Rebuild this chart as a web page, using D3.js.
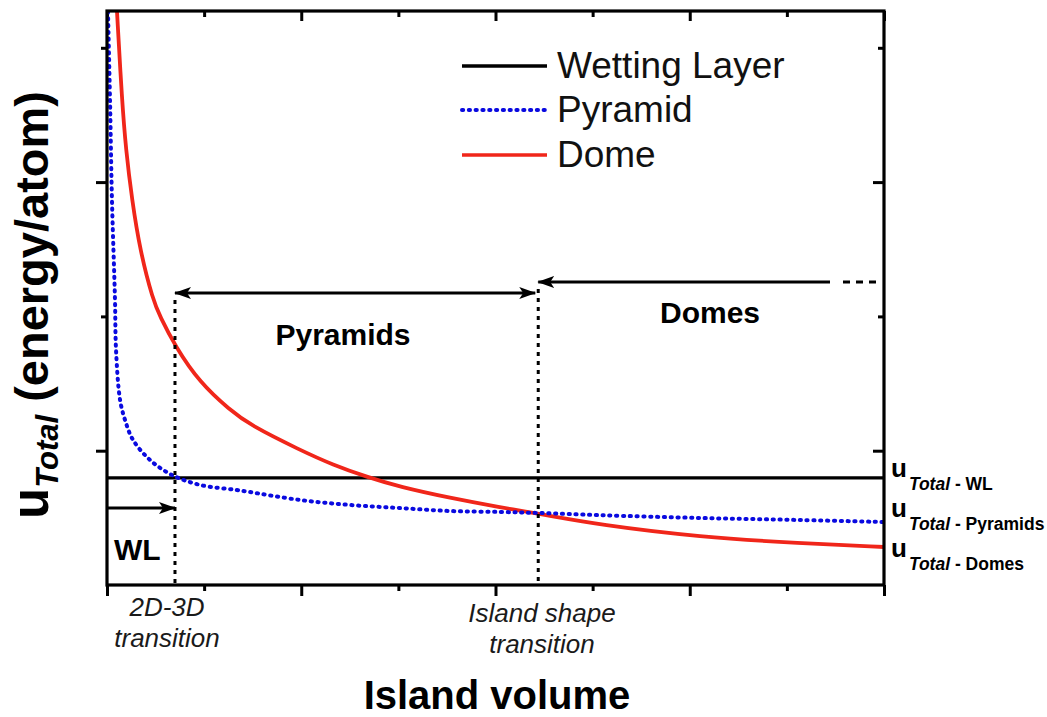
<!DOCTYPE html>
<html>
<head>
<meta charset="utf-8">
<script src="https://cdn.jsdelivr.net/npm/d3@7"></script>
<style>
  html, body { margin: 0; padding: 0; background: #fff; }
  svg { display: block; font-family: "Liberation Sans", Arial, Helvetica, sans-serif; }
</style>
</head>
<body>
<svg id="chart" width="1047" height="717"></svg>
<script>
// ---------------- data ----------------
// Island volume (arbitrary units, 0..8) and energy per atom (arbitrary units)
const pyramidVolume = [0.010, 0.031, 0.051, 0.082, 0.093, 0.134, 0.185, 0.268, 0.443, 0.669, 0.958, 1.338, 1.472, 1.987, 2.502, 3.017, 3.532, 4.046, 4.458, 5.076, 6.106, 7.135, 8.0];
const pyramidEnergy = [4.27, 3.61, 2.87, 2.13, 1.75, 1.38, 1.23, 1.08, 0.931, 0.819, 0.745, 0.707, 0.692, 0.633, 0.596, 0.573, 0.551, 0.544, 0.536, 0.520, 0.499, 0.484, 0.469];
const domeVolume = [0.103, 0.154, 0.195, 0.257, 0.340, 0.474, 0.546, 0.700, 0.958, 1.266, 1.472, 1.987, 2.327, 2.677, 3.017, 3.532, 4.046, 4.458, 5.076, 6.106, 7.135, 8.0];
const domeEnergy = [4.27, 3.61, 3.24, 2.87, 2.49, 2.12, 2.00, 1.78, 1.504, 1.303, 1.191, 1.005, 0.894, 0.804, 0.730, 0.648, 0.578, 0.529, 0.447, 0.357, 0.310, 0.283];
const wettingLayerEnergy = 0.797;
const transitionVolumes = [0.70, 4.44];   // 2D-3D transition, island shape transition

const xMajorTicks = [0, 2, 4, 6, 8];
const xMinorTicks = [1, 3, 5, 7];
const yMajorTicks = [1, 3];
const yMinorTicks = [2, 4];

const legendLabels = ["Wetting Layer", "Pyramid", "Dome"];
const seriesColors = ["#000000", "#0a0ae0", "#f0261a"];

// ---------------- layout ----------------
const svg = d3.select("#chart");
const L = 107, R = 884, T = 11, B = 585;
const x = d3.scaleLinear().domain([0, 8]).range([L, R]);
const y = d3.scaleLinear().domain([0, 4.274]).range([B, T]);

const defs = svg.append("defs");
defs.append("clipPath").attr("id", "plotClip")
  .append("rect").attr("x", L).attr("y", T).attr("width", R - L).attr("height", B - T);
defs.append("marker").attr("id", "arrowHead")
  .attr("viewBox", "0 0 17 12").attr("refX", 16).attr("refY", 6)
  .attr("markerWidth", 17).attr("markerHeight", 12).attr("markerUnits", "userSpaceOnUse")
  .attr("orient", "auto-start-reverse")
  .append("path").attr("d", "M0,0 L17,6 L0,12 L4,6 Z").attr("fill", "#000");

// ---------------- axes ----------------
function styleAxis(g) {
  g.select(".domain").remove();
  g.selectAll(".tick line").attr("stroke", "#000").attr("stroke-width", 3);
  g.selectAll(".tick text").remove();
}
svg.append("g").attr("transform", `translate(0,${B})`)
  .call(d3.axisBottom(x).tickValues(xMajorTicks).tickSize(11).tickFormat("")).call(styleAxis);
svg.append("g").attr("transform", `translate(0,${B})`)
  .call(d3.axisBottom(x).tickValues(xMinorTicks).tickSize(6).tickFormat("")).call(styleAxis);
svg.append("g").attr("transform", `translate(0,${T})`)
  .call(d3.axisTop(x).tickValues(xMajorTicks).tickSize(-10).tickFormat("")).call(styleAxis);
svg.append("g").attr("transform", `translate(0,${T})`)
  .call(d3.axisTop(x).tickValues(xMinorTicks).tickSize(-6).tickFormat("")).call(styleAxis);
svg.append("g").attr("transform", `translate(${L},0)`)
  .call(d3.axisLeft(y).tickValues(yMajorTicks).tickSize(11).tickFormat("")).call(styleAxis);
svg.append("g").attr("transform", `translate(${L},0)`)
  .call(d3.axisLeft(y).tickValues(yMinorTicks).tickSize(6).tickFormat("")).call(styleAxis);
svg.append("g").attr("transform", `translate(${R},0)`)
  .call(d3.axisRight(y).tickValues(yMajorTicks).tickSize(-11).tickFormat("")).call(styleAxis);
svg.append("g").attr("transform", `translate(${R},0)`)
  .call(d3.axisRight(y).tickValues(yMinorTicks).tickSize(-6).tickFormat("")).call(styleAxis);

// ---------------- curves ----------------
const plot = svg.append("g").attr("clip-path", "url(#plotClip)");
const lineSmooth = d3.line().x(d => x(d[0])).y(d => y(d[1])).curve(d3.curveBasis);
const lineCR = d3.line().x(d => x(d[0])).y(d => y(d[1])).curve(d3.curveCatmullRom.alpha(0.5));

plot.append("line")
  .attr("x1", x(0)).attr("x2", x(8))
  .attr("y1", y(wettingLayerEnergy)).attr("y2", y(wettingLayerEnergy))
  .attr("stroke", seriesColors[0]).attr("stroke-width", 3.2);

plot.append("path").datum(d3.zip(domeVolume, domeEnergy))
  .attr("d", lineSmooth).attr("fill", "none")
  .attr("stroke", seriesColors[2]).attr("stroke-width", 3.8);

plot.append("path").datum(d3.zip(pyramidVolume, pyramidEnergy))
  .attr("d", lineCR).attr("fill", "none")
  .attr("stroke", seriesColors[1]).attr("stroke-width", 4)
  .attr("stroke-linecap", "round").attr("stroke-dasharray", "1.2 5.6");

// ---------------- annotations ----------------
const ann = svg.append("g");
const yPyrArrow = 2.174, yDomeArrow = 2.256, yWLArrow = 0.573, domeArrowEnd = 7.444;

// vertical dotted transition lines
[[transitionVolumes[0], yPyrArrow], [transitionVolumes[1], yDomeArrow]].forEach(([v, top]) => {
  ann.append("line")
    .attr("x1", x(v)).attr("x2", x(v)).attr("y1", y(top) + 7).attr("y2", y(0))
    .attr("stroke", "#000").attr("stroke-width", 3).attr("stroke-dasharray", "4 5");
});

// Pyramids double arrow
ann.append("line")
  .attr("x1", x(transitionVolumes[0])).attr("x2", x(transitionVolumes[1]) - 3)
  .attr("y1", y(yPyrArrow)).attr("y2", y(yPyrArrow))
  .attr("stroke", "#000").attr("stroke-width", 3)
  .attr("marker-start", "url(#arrowHead)").attr("marker-end", "url(#arrowHead)");

// Domes arrow (pointing left) with dashed continuation
ann.append("line")
  .attr("x1", x(domeArrowEnd)).attr("x2", x(transitionVolumes[1]))
  .attr("y1", y(yDomeArrow)).attr("y2", y(yDomeArrow))
  .attr("stroke", "#000").attr("stroke-width", 3)
  .attr("marker-end", "url(#arrowHead)");
ann.append("line")
  .attr("x1", x(domeArrowEnd) + 13).attr("x2", R - 3)
  .attr("y1", y(yDomeArrow)).attr("y2", y(yDomeArrow))
  .attr("stroke", "#000").attr("stroke-width", 3).attr("stroke-dasharray", "7 6");

// WL arrow
ann.append("line")
  .attr("x1", x(0)).attr("x2", x(transitionVolumes[0]))
  .attr("y1", y(yWLArrow)).attr("y2", y(yWLArrow))
  .attr("stroke", "#000").attr("stroke-width", 3)
  .attr("marker-end", "url(#arrowHead)");

// region labels
ann.append("text").attr("x", 343).attr("y", 345).attr("text-anchor", "middle")
  .attr("font-size", 30).attr("font-weight", "bold").text("Pyramids");
ann.append("text").attr("x", 710).attr("y", 323).attr("text-anchor", "middle")
  .attr("font-size", 30).attr("font-weight", "bold").text("Domes");
ann.append("text").attr("x", 114).attr("y", 560)
  .attr("font-size", 30).attr("font-weight", "bold").text("WL");

// transition captions
function caption(cx, lines, baselines) {
  lines.forEach((t, i) => {
    ann.append("text").attr("x", cx).attr("y", baselines[i]).attr("text-anchor", "middle")
      .attr("font-size", 26).attr("font-style", "italic").attr("fill", "#1a1a1a").text(t);
  });
}
caption(167, ["2D-3D", "transition"], [616, 647]);
caption(542, ["Island shape", "transition"], [622, 653]);

// right-side labels
const rightLabels = [["WL", 477], ["Pyramids", 517], ["Domes", 557]];
rightLabels.forEach(([name, by]) => {
  const t = ann.append("text").attr("x", 891).attr("y", by).attr("font-weight", "bold");
  t.append("tspan").attr("font-size", 26).text("u");
  t.append("tspan").attr("font-size", 17.5).attr("font-style", "italic").attr("dy", 13).attr("dx", 2).text("Total");
  t.append("tspan").attr("font-size", 17.5).text(" - " + name);
});

// ---------------- frame ----------------
svg.append("rect").attr("x", L).attr("y", T).attr("width", R - L).attr("height", B - T)
  .attr("fill", "none").attr("stroke", "#000").attr("stroke-width", 3.2);

// ---------------- legend ----------------
const legend = svg.append("g");
const legendRowsY = [66, 110, 155];
legendLabels.forEach((lab, i) => {
  const ln = legend.append("line").attr("x1", 462).attr("x2", 547)
    .attr("y1", legendRowsY[i]).attr("y2", legendRowsY[i])
    .attr("stroke", seriesColors[i]).attr("stroke-width", i === 1 ? 4 : 3.6);
  if (i === 1) ln.attr("stroke-linecap", "round").attr("stroke-dasharray", "1.2 5.6");
  legend.append("text").attr("x", 557).attr("y", legendRowsY[i] + 12)
    .attr("font-size", 37).attr("fill", "#111").text(lab);
});

// ---------------- axis titles ----------------
svg.append("text").attr("x", 497).attr("y", 709).attr("text-anchor", "middle")
  .attr("font-size", 40).attr("font-weight", "bold").text("Island volume");

const yt = svg.append("text").attr("transform", "translate(48,305) rotate(-90)")
  .attr("text-anchor", "middle").attr("font-weight", "bold");
yt.append("tspan").attr("font-size", 51).text("u");
yt.append("tspan").attr("font-size", 31).attr("font-style", "italic").attr("dy", 10).text("Total");
yt.append("tspan").attr("font-size", 47).attr("dy", -10).text(" (energy/atom)");
</script>
</body>
</html>
